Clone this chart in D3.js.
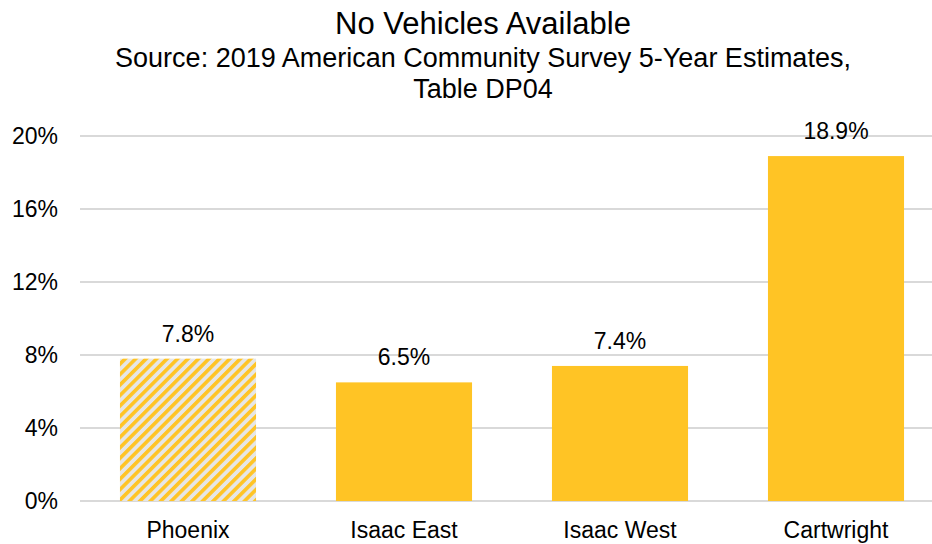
<!DOCTYPE html>
<html><head><meta charset="utf-8">
<script src="https://cdn.jsdelivr.net/npm/d3@7"></script>
<style>body{margin:0;background:#fff}svg{display:block}text{font-family:"Liberation Sans",Arial,sans-serif;fill:#000}</style>
</head><body>
<svg id="c" width="932" height="544"></svg>
<script>
const categories = ["Phoenix", "Isaac East", "Isaac West", "Cartwright"];
const values = [7.8, 6.5, 7.4, 18.9];
const hatched = [true, false, false, false];
const yTicks = [0, 4, 8, 12, 16, 20];
const titleLines = ["No Vehicles Available"];
const subtitleLines = ["Source: 2019 American Community Survey 5-Year Estimates,", "Table DP04"];

(function () {
const svg = d3.select("#c");
const W = 932, H = 544;
const mLeft = 80, mRight = 944, mTop = 136, mBottom = 501;
const yellow = "#FFC425";
const fam = '"Liberation Sans",Arial,sans-serif';

const defs = svg.append("defs");
const pat = defs.append("pattern").attr("id", "hatch").attr("patternUnits", "userSpaceOnUse")
  .attr("width", 7.4).attr("height", 7.4).attr("patternTransform", "rotate(45)");
pat.append("rect").attr("width", 7.4).attr("height", 7.4).attr("fill", "#e6e6e6");
pat.append("rect").attr("width", 3.6).attr("height", 7.4).attr("fill", yellow);

const x = d3.scaleBand().domain(categories).range([mLeft, mRight]).paddingInner(0.37).paddingOuter(0.185);
const y = d3.scaleLinear().domain([0, 20]).range([mBottom, mTop]);

svg.append("g").selectAll("line").data(yTicks).join("line")
  .attr("x1", mLeft).attr("x2", W).attr("y1", d => y(d)).attr("y2", d => y(d))
  .attr("stroke", "#d9d9d9").attr("stroke-width", 2);

const yAxis = svg.append("g").attr("transform", `translate(${mLeft},0)`)
  .call(d3.axisLeft(y).tickValues(yTicks).tickFormat(d => d + "%").tickSize(0).tickPadding(22));
yAxis.select(".domain").remove();
yAxis.selectAll("text").style("font-size", "23px").style("font-family", fam).attr("fill", "#000");

svg.append("g").selectAll("rect").data(categories).join("rect")
  .attr("x", d => x(d)).attr("width", x.bandwidth())
  .attr("y", (d, i) => y(values[i])).attr("height", (d, i) => y(0) - y(values[i]))
  .attr("fill", (d, i) => hatched[i] ? "url(#hatch)" : yellow);

svg.append("g").selectAll("text").data(categories).join("text")
  .attr("x", d => x(d) + x.bandwidth() / 2).attr("y", (d, i) => y(values[i]) - 17)
  .attr("text-anchor", "middle").style("font-size", "23px")
  .text((d, i) => values[i].toFixed(1) + "%");

const xAxis = svg.append("g").attr("transform", `translate(0,${mBottom})`)
  .call(d3.axisBottom(x).tickSize(0).tickPadding(21));
xAxis.select(".domain").remove();
xAxis.selectAll("text").style("font-size", "23px").style("font-family", fam).attr("fill", "#000");

const cx = 483;
svg.append("text").attr("x", cx).attr("y", 34).attr("text-anchor", "middle").style("font-size", "31px").text(titleLines[0]);
svg.selectAll(".sub").data(subtitleLines).join("text").attr("class", "sub")
  .attr("x", cx).attr("y", (d, i) => 67 + i * 31).attr("text-anchor", "middle").style("font-size", "27px").text(d => d);
})();
</script>
</body></html>
